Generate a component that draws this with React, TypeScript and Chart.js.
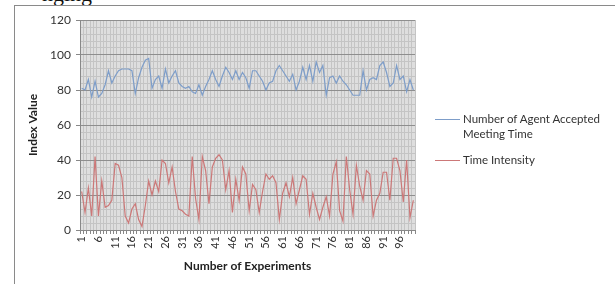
import React, { useEffect, useRef } from "react";
import { Chart, registerables } from "chart.js";

Chart.register(...registerables);

const categories: string[] = Array.from({ length: 100 }, (_, i) => String(i + 1));

const acceptedMeetingTime: number[] = [
  81, 80, 86, 76, 85, 76, 78, 83, 91, 84,
  88, 91, 92, 92, 92, 91, 78, 87, 93, 97,
  98, 81, 86, 88, 81, 92, 84, 88, 91, 84,
  82, 81, 82, 79, 78, 83, 77, 82, 86, 91,
  86, 82, 88, 93, 90, 86, 91, 86, 90, 87,
  81, 91, 91, 88, 85, 80, 84, 85, 91, 94,
  91, 88, 85, 89, 80, 85, 93, 86, 94, 85,
  96, 90, 94, 77, 87, 88, 84, 88, 85, 83,
  80, 77, 77, 77, 91, 80, 86, 87, 86, 94,
  96, 90, 82, 84, 94, 86, 88, 79, 86, 80,
];

const timeIntensity: number[] = [
  22, 10, 24, 8, 42, 8, 28, 13, 14, 17,
  38, 37, 30, 8, 4, 12, 15, 6, 2, 14,
  28, 20, 28, 22, 40, 38, 27, 36, 22, 12,
  11, 9, 8, 42, 18, 6, 42, 34, 15, 36,
  41, 43, 40, 23, 34, 10, 29, 17, 36, 32,
  11, 26, 23, 10, 22, 32, 29, 31, 27, 6,
  21, 27, 19, 30, 15, 23, 31, 29, 9, 21,
  13, 6, 13, 19, 8, 32, 39, 11, 5, 42,
  23, 9, 37, 25, 17, 34, 32, 8, 17, 21,
  33, 33, 17, 41, 41, 34, 16, 40, 7, 17,
];

const yTicks: number[] = [0, 20, 40, 60, 80, 100, 120];
const seriesNames: string[] = ["Number of Agent Accepted Meeting Time", "Time Intensity"];

const BLUE = "#7d9dc9";
const RED = "#cc7878";

export default function App() {
  const canvasRef = useRef<HTMLCanvasElement | null>(null);

  useEffect(() => {
    if (!canvasRef.current) return;
    const bgPlugin = {
      id: "plotBg",
      beforeDraw(chart: any) {
        const { ctx, chartArea } = chart;
        if (!chartArea) return;
        ctx.save();
        ctx.fillStyle = "#dedede";
        ctx.fillRect(chartArea.left, chartArea.top, chartArea.right - chartArea.left, chartArea.bottom - chartArea.top);
        ctx.restore();
      },
    };
    const chart = new Chart(canvasRef.current, {
      type: "line",
      data: {
        labels: categories,
        datasets: [
          {
            label: seriesNames[0],
            data: acceptedMeetingTime,
            borderColor: BLUE,
            borderWidth: 1.2,
            pointRadius: 0,
            tension: 0,
          },
          {
            label: seriesNames[1],
            data: timeIntensity,
            borderColor: RED,
            borderWidth: 1.2,
            pointRadius: 0,
            tension: 0,
          },
        ],
      },
      options: {
        animation: false,
        responsive: false,
        maintainAspectRatio: false,
        layout: { padding: { left: 0, top: 20, right: 200, bottom: 0 } },
        plugins: {
          legend: { display: false },
          tooltip: { enabled: false },
        },
        scales: {
          x: {
            type: "category",
            offset: true,
            grid: {
              color: "#c4c4c4",
              offset: true,
              drawTicks: true,
              tickLength: 4,
              tickColor: "#888",
            },
            border: { color: "#888" },
            ticks: {
              autoSkip: false,
              minRotation: 90,
              maxRotation: 90,
              padding: 2,
              color: "#333",
              font: { family: "Lato", size: 11 },
              callback: (_v: any, idx: number) => (idx % 5 === 0 ? categories[idx] : ""),
            },
            title: {
              display: true,
              text: "Number of Experiments",
              color: "#222",
              font: { family: "Lato", size: 12, weight: "bold" },
              padding: { top: 0, bottom: 11 },
            },
            afterFit: (scale: any) => {
              scale.height = 54;
            },
          },
          y: {
            min: 0,
            max: 120,
            grid: {
              color: (ctx: any) => (ctx.tick && yTicks.includes(ctx.tick.value) ? "#8e8e8e" : "#c4c4c4"),
              drawTicks: true,
              tickLength: 4,
              tickColor: (ctx: any) => (ctx.tick && yTicks.includes(ctx.tick.value) ? "#888" : "rgba(0,0,0,0)"),
            },
            border: { color: "#888" },
            ticks: {
              stepSize: 4,
              autoSkip: false,
              padding: 5,
              color: "#333",
              font: { family: "Lato", size: 12 },
              callback: (v: any) => (yTicks.includes(Number(v)) ? String(v) : ""),
            },
            title: {
              display: true,
              text: "Index Value",
              color: "#222",
              font: { family: "Lato", size: 12, weight: "bold" },
              padding: { top: 26, bottom: 0 },
            },
            afterFit: (scale: any) => {
              scale.width = 80;
            },
          },
        },
      },
      plugins: [bgPlugin],
    } as any);
    return () => chart.destroy();
  }, []);

  const legendText: React.CSSProperties = {
    position: "absolute",
    fontFamily: "Lato",
    fontSize: 11.5,
    color: "#333",
    lineHeight: "15px",
    whiteSpace: "nowrap",
  };

  return (
    <div style={{ position: "fixed", left: 0, top: 0, width: 615, height: 284, overflow: "hidden", background: "#fff" }}>
      <div style={{ position: "absolute", left: 42, top: -17, fontFamily: "'Liberation Serif', serif", fontSize: 22, lineHeight: "22px", color: "#111" }}>
        nging
      </div>
      <div style={{ position: "absolute", left: 14, top: 5, width: 800, height: 400, border: "1px solid #8a8a8a" }} />
      <canvas ref={canvasRef} width={615} height={284} style={{ position: "absolute", left: 0, top: 0 }} />
      <div style={{ position: "absolute", left: 435, top: 119, width: 25, height: 1.3, background: BLUE }} />
      <div style={{ ...legendText, left: 463, top: 111 }}>
        Number of Agent Accepted
        <br />
        Meeting Time
      </div>
      <div style={{ position: "absolute", left: 435, top: 160, width: 25, height: 1.3, background: RED }} />
      <div style={{ ...legendText, left: 463, top: 152 }}>{seriesNames[1]}</div>
    </div>
  );
}
